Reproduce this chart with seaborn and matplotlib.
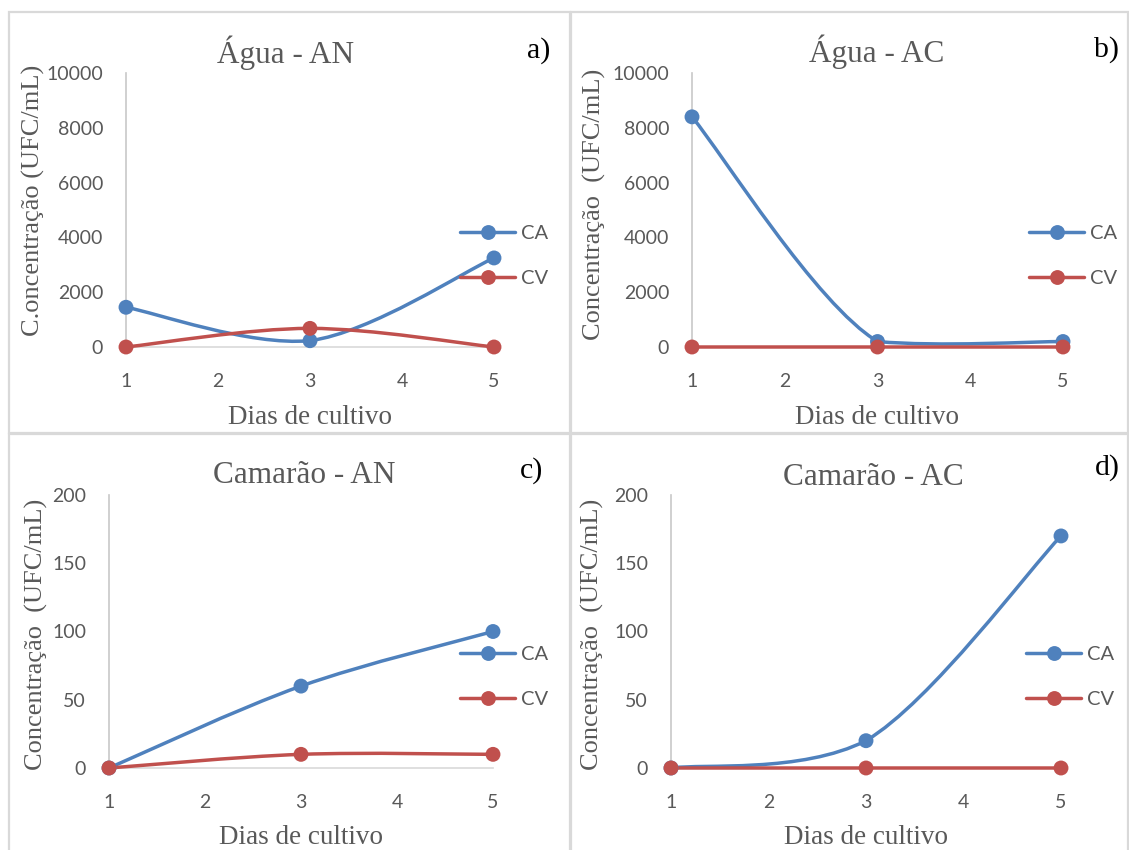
import numpy as np
import pandas as pd
import matplotlib
matplotlib.use("Agg")
import matplotlib.pyplot as plt
import seaborn as sns
from matplotlib.path import Path
from matplotlib.patches import PathPatch, Rectangle
from matplotlib.lines import Line2D

# ---------------- data ----------------
days = [1, 3, 5]
agua_an_ca = [1450, 230, 3250]
agua_an_cv = [0, 680, 0]
agua_ac_ca = [8400, 200, 200]
agua_ac_cv = [0, 0, 0]
camarao_an_ca = [0, 60, 100]
camarao_an_cv = [0, 10, 10]
camarao_ac_ca = [0, 20, 170]
camarao_ac_cv = [0, 0, 0]

series_names = ["CA", "CV"]
titles = ["Água - AN", "Água - AC", "Camarão - AN", "Camarão - AC"]
letters = ["a)", "b)", "c)", "d)"]
ylabels = ["C.oncentração (UFC/mL)", "Concentração  (UFC/mL)",
           "Concentração  (UFC/mL)", "Concentração  (UFC/mL)"]
xlabel_text = "Dias de cultivo"
xticks = [1, 2, 3, 4, 5]
yticks_agua = [0, 2000, 4000, 6000, 8000, 10000]
yticks_camarao = [0, 50, 100, 150, 200]

panel_data = [
    (agua_an_ca, agua_an_cv, yticks_agua),
    (agua_ac_ca, agua_ac_cv, yticks_agua),
    (camarao_an_ca, camarao_an_cv, yticks_camarao),
    (camarao_ac_ca, camarao_ac_cv, yticks_camarao),
]

# ---------------- style ----------------
sns.set_theme(style="white")
W, H = 1129, 850
fig = plt.figure(figsize=(W / 100, H / 100), dpi=100)
fig.patch.set_facecolor("white")

BLUE = "#4F81BD"
RED = "#C0504D"
GRAY_TXT = "#595959"
AX_GRAY = "#C8C8C8"
SERIF = "Liberation Serif"
SANS = "Lato"
LW = 2.5


def fx(px):
    return px / W


def fy(py):
    return 1 - py / H


# layout in pixels of plot areas and texts
layout = [
    dict(l=126, r=494, t=73, b=347, title=(286, 63), letter=(539, 58),
         ylab=(33, 200), xlab=(310, 424), leg=(460, 256),
         box=(9, 12, 570, 433)),
    dict(l=692, r=1063, t=73, b=347, title=(877, 62), letter=(1106, 57),
         ylab=(594, 204), xlab=(877, 424), leg=(1029, 256),
         box=(571, 12, 1128, 433)),
    dict(l=109, r=493, t=495, b=768, title=(304, 483), letter=(532, 478),
         ylab=(36, 634), xlab=(301, 844), leg=(460, 677),
         box=(9, 434, 570, 852)),
    dict(l=671, r=1061, t=495, b=768, title=(873, 485), letter=(1107, 475),
         ylab=(592, 634), xlab=(866, 844), leg=(1026, 677),
         box=(571, 434, 1128, 852)),
]


def smooth_path(x, y, tol):
    """Excel-like smoothed line: Catmull-Rom Bezier, with control points
    kept close to the y-range of each segment to avoid big overshoots."""
    pts = np.column_stack([x, y]).astype(float)
    n = len(pts)
    verts = [pts[0]]
    codes = [Path.MOVETO]
    for i in range(n - 1):
        p0 = pts[i - 1] if i > 0 else pts[i]
        p1 = pts[i]
        p2 = pts[i + 1]
        p3 = pts[i + 2] if i + 2 < n else pts[i + 1]
        c1 = p1 + (p2 - p0) / 6.0
        c2 = p2 - (p3 - p1) / 6.0
        lo = min(p1[1], p2[1]) - tol
        hi = max(p1[1], p2[1]) + tol
        c1[1] = np.clip(c1[1], lo, hi)
        c2[1] = np.clip(c2[1], lo, hi)
        verts += [c1, c2, p2]
        codes += [Path.CURVE4] * 3
    return Path(verts, codes)


# panel borders
for lay in layout:
    x0, y0, x1, y1 = lay["box"]
    fig.add_artist(Rectangle((fx(x0), fy(y1)), fx(x1) - fx(x0), fy(y0) - fy(y1),
                             transform=fig.transFigure, fill=False,
                             ec="#D9D9D9", lw=1.6, zorder=0))

for k, (lay, (ca, cv, yt)) in enumerate(zip(layout, panel_data)):
    ax = fig.add_axes([fx(lay["l"]), fy(lay["b"]), fx(lay["r"]) - fx(lay["l"]),
                       fy(lay["t"]) - fy(lay["b"])])
    ax.set_facecolor("none")
    df = pd.DataFrame({
        "day": days * 2,
        "value": list(ca) + list(cv),
        "series": [series_names[0]] * len(days) + [series_names[1]] * len(days),
    })
    tol = 0.02 * (yt[-1] - yt[0])
    for vals, col in ((ca, BLUE), (cv, RED)):
        ax.add_patch(PathPatch(smooth_path(days, vals, tol), fill=False, ec=col,
                               lw=LW, capstyle="round", joinstyle="round",
                               clip_on=False, zorder=3))
    sns.scatterplot(data=df, x="day", y="value", hue="series",
                    palette={"CA": BLUE, "CV": RED}, s=115, linewidth=0,
                    legend=False, ax=ax, zorder=4, clip_on=False)
    ax.set_xlim(1, 5)
    ax.set_ylim(yt[0], yt[-1])
    ax.set_xticks(xticks)
    ax.set_yticks(yt)
    ax.tick_params(length=0, labelsize=14, labelcolor=GRAY_TXT)
    ax.tick_params(axis="y", pad=16.5)
    ax.tick_params(axis="x", pad=19)
    for lab in ax.get_xticklabels() + ax.get_yticklabels():
        lab.set_fontfamily(SANS)
    for s in ("top", "right"):
        ax.spines[s].set_visible(False)
    ax.spines["left"].set_color(AX_GRAY)
    ax.spines["bottom"].set_color("#D9D9D9")
    ax.spines["left"].set_linewidth(1.2)
    ax.spines["bottom"].set_linewidth(1.2)
    ax.grid(False)

    ax.set_xlabel(xlabel_text, fontsize=19.5, family=SERIF, color=GRAY_TXT,
                  va="baseline")
    ax.xaxis.set_label_coords(fx(lay["xlab"][0]), fy(lay["xlab"][1]),
                              transform=fig.transFigure)
    ax.set_ylabel(ylabels[k], fontsize=19, family=SERIF, color=GRAY_TXT,
                  va="center")
    ax.yaxis.set_label_coords(fx(lay["ylab"][0]), fy(lay["ylab"][1]),
                              transform=fig.transFigure)

    fig.text(fx(lay["title"][0]), fy(lay["title"][1]), titles[k],
             ha="center", va="baseline", fontsize=22.5, family=SERIF,
             color=GRAY_TXT)
    fig.text(fx(lay["letter"][0]), fy(lay["letter"][1]), letters[k],
             ha="center", va="baseline", fontsize=21.5, family=SERIF,
             color="black")

    handles = [Line2D([], [], color=BLUE, lw=LW, marker="o", markersize=10.7,
                      markeredgewidth=0),
               Line2D([], [], color=RED, lw=LW, marker="o", markersize=10.7,
                      markeredgewidth=0)]
    leg = ax.legend(handles, series_names, loc="center left",
                    bbox_to_anchor=(fx(lay["leg"][0]), fy(lay["leg"][1])),
                    bbox_transform=fig.transFigure, frameon=False,
                    borderpad=0, borderaxespad=0, handlelength=2.75,
                    handletextpad=0.28, labelspacing=1.36,
                    prop={"family": SANS, "size": 14.5})
    for t in leg.get_texts():
        t.set_color(GRAY_TXT)

fig.savefig("out.png", dpi=100, facecolor="white")
